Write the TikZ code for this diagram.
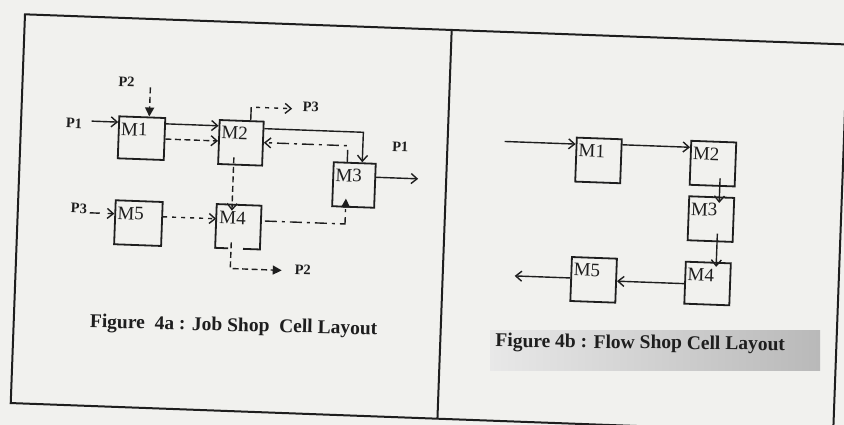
\documentclass[tikz,border=0pt]{standalone}
\usepackage{fontspec}
\setmainfont{Liberation Serif}
\usetikzlibrary{arrows.meta,calc}
\definecolor{ink}{HTML}{1E1E1E}
\definecolor{paper}{HTML}{F1F1EE}
\begin{document}
\begin{tikzpicture}[x=1pt,y=-1pt,
  box/.style={draw=ink, line width=1.8pt, minimum width=45pt, minimum height=44pt, inner sep=0pt},
  mlbl/.style={font=\fontsize{19}{19}\selectfont, text=ink, anchor=north west, inner sep=0pt, xshift=3pt, yshift=-7pt},
  plbl/.style={font=\bfseries\fontsize{14.5}{14.5}\selectfont, text=ink, inner sep=0pt},
  captxt/.style={font=\bfseries\fontsize{19.5}{19.5}\selectfont, text=ink, anchor=base, inner sep=0pt},
  conn/.style={draw=ink, line width=1.4pt},
  vtip/.style={-{Straight Barb[length=6pt,width=10pt]}},
  ftip/.style={-{Triangle[length=9pt,width=9pt]}},
  dshA/.style={dash pattern=on 6pt off 3.5pt},
  dshB/.style={dash pattern=on 4pt off 5pt},
  dshC/.style={dash pattern=on 12pt off 5pt on 3pt off 5pt},
  dshD/.style={dash pattern=on 10pt off 8pt},
]
\useasboundingbox (0,0) rectangle (844,425);
\fill[paper] (0,0) rectangle (844,425);
\clip (0,0) rectangle (844,425);
\shade[left color=gray!18, right color=gray!55] (490,330) rectangle (820,370);

\begin{scope}[rotate around={-2.1:(422,212)}, transform shape]
% frame
\draw[ink, line width=2pt] (18,29) rectangle (841,418);
\draw[ink, line width=2pt] (445,29) -- (445,418);

% ---------- left: job shop ----------
\node[box, minimum width=46pt, minimum height=42pt, label={[mlbl]north west:M1}] (M1) at (139,148.5) {};
\node[box, minimum width=44pt, label={[mlbl]north west:M2}] (M2) at (238.5,149.5) {};
\node[box, minimum width=42pt, label={[mlbl]north west:M3}] (M3) at (353,187.5) {};
\node[box, draw=none, minimum width=43pt, minimum height=42pt, label={[mlbl]north west:M4}] (M4) at (239,233.5) {};
\node[box, minimum width=47pt, label={[mlbl]north west:M5}] (M5) at (139,233.5) {};
\draw[ink, line width=1.8pt] ([xshift=-9.5pt]M4.south) -- (M4.south west) -- (M4.north west)
  -- (M4.north east) -- (M4.south east) -- ([xshift=5.5pt]M4.south);

\node[plbl] (lP1) at (71,136) {P1};
\node[plbl] (lP2) at (122,93) {P2};
\node[plbl] (lP3a) at (307,111) {P3};
\node[plbl] (lP1b) at (398,148) {P1};
\node[plbl] (lP3b) at (79,221) {P3};
\node[plbl] (lP2b) at (305,274.5) {P2};

\coordinate (p1s) at (88.5,133.3);
\coordinate (r1) at (0,133.3);
\coordinate (r2) at (0,148.5);
\coordinate (p2s) at (146,97.5);
\coordinate (p3c) at (247.5,113.5);
\coordinate (p3e) at (288.5,113.5);
\coordinate (c23) at (360.5,134.5);
\coordinate (c32) at (345.5,148.5);
\coordinate (p1e) at (417,179);
\coordinate (v24) at (232,0);
\coordinate (r3) at (0,226.3);
\coordinate (c43) at (345.5,226.8);
\coordinate (c4p) at (232.5,275.5);
\coordinate (p2e) at (284,275.5);
\coordinate (p3s) at (90,225);

\draw[conn, vtip] (p1s) -- (p1s -| M1.west);
\draw[conn, dshA, ftip] (p2s) -- (p2s |- M1.north);
\draw[conn, vtip] (M1.east |- r1) -- (M2.west |- r1);
\draw[conn, dshA, vtip] (M1.east |- r2) -- (M2.west |- r2);
\draw[conn] (p3c |- M2.north) -- (p3c);
\draw[conn, dshB, vtip] ($(p3c)+(5,0)$) -- (p3e);
\draw[conn, vtip] (M2.east |- c23) -- (c23) -- (c23 |- M3.north);
\draw[conn, dshC, vtip] (c32 |- M3.north) -- (c32) -- (c32 -| M2.east);
\draw[conn, vtip] (M3.east |- p1e) -- (p1e);
\draw[conn, dshA, vtip] ($(v24 |- M2.south)+(0,-8)$) -- ($(v24 |- M4.north)+(0,6)$);
\draw[conn, dshB, vtip] (M5.east |- r3) -- (M4.west |- r3);
\draw[conn, dshC, ftip] ($(M4.east |- c43)+(4,0)$) -- (c43) -- ($(c43 |- M3.south)+(0,-9)$);
\draw[conn, dshA, ftip] ($(c4p |- M4.south)+(0,-6)$) -- (c4p) -- (p2e);
\draw[conn, dshD, vtip] (p3s) -- (p3s -| M5.west);

\node[captxt, rotate=0.7] (cap4a) at (238,338) {Figure\ \ 4a : Job Shop\ \ Cell Layout};

% ---------- right: flow shop ----------
\node[box, label={[mlbl]north west:M1}] (N1) at (596.5,154) {};
\node[box, label={[mlbl]north west:M2}] (N2) at (711,153) {};
\node[box, label={[mlbl]north west:M3}] (N3) at (711,208.5) {};
\node[box, minimum height=42pt, label={[mlbl]north west:M4}] (N4) at (710,273) {};
\node[box, label={[mlbl]north west:M5}] (N5) at (596,273.5) {};

\coordinate (inr) at (502,138.5);
\coordinate (r4) at (0,137.5);
\coordinate (v23) at (718.7,0);
\coordinate (v34) at (718,0);
\coordinate (r5) at (0,274);
\coordinate (outr) at (517,272.5);

\draw[conn, vtip] (inr) -- (inr -| N1.west);
\draw[conn, vtip] (N1.east |- r4) -- (N2.west |- r4);
\draw[conn, vtip] ($(v23 |- N2.south)+(0,-8.5)$) -- ($(v23 |- N3.north)+(0,6.5)$);
\draw[conn, vtip] ($(v34 |- N3.south)+(0,-8.5)$) -- ($(v34 |- N4.north)+(0,5)$);
\draw[conn, vtip] (N4.west |- r5) -- (N5.east |- r5);
\draw[conn, vtip] (N5.west |- outr) -- (outr);

\node[captxt, rotate=1.4] (cap4b) at (645,340.5) {Figure 4b : Flow Shop Cell Layout};
\end{scope}
\end{tikzpicture}
\end{document}
